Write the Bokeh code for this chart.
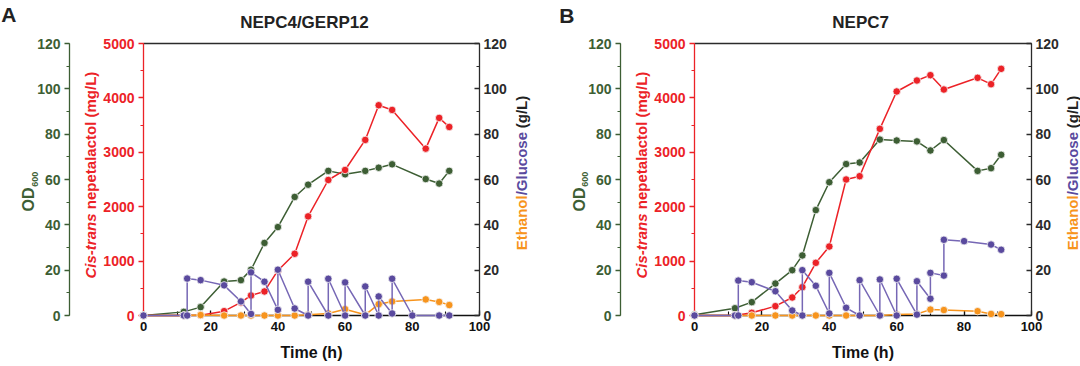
import math
from bokeh.plotting import figure
from bokeh.models import Range1d, LinearAxis, SingleIntervalTicker, FixedTicker
from bokeh.core.properties import value
from bokeh.layouts import row
from bokeh.embed import file_html
from bokeh.resources import INLINE

# ---------------- data ----------------
# Panel A: NEPC4/GERP12
a_time = [0, 12, 17, 24, 29, 32, 36, 40, 45, 49, 55, 60, 66, 70, 74, 84, 88, 91]
a_nepetalactol = [0, 0, 5, 80, 240, 368, 442, 828, 1135, 1822, 2491, 2675, 3227, 3865, 3779, 3067, 3632, 3466]
a_od600 = [0, 1.6, 3.7, 15.0, 15.6, 20.2, 32.0, 39.0, 52.3, 57.7, 63.8, 62.3, 63.8, 65.2, 66.7, 60.2, 58.2, 63.8]
a_ethanol = [0, 0, 0.2, 0, 0, 0, 0, 0, 0, 0.3, 0.9, 2.8, 0.3, 5.0, 6.2, 7.1, 6.0, 4.6]
a_glc_time = [0, 12, 13, 13, 17, 24, 29, 32, 32, 36, 40, 40, 45, 49, 49, 55, 55, 60, 60, 66, 66, 70, 70, 74, 74, 80, 88, 91]
a_glucose = [0, 0, 0, 16.3, 15.6, 13.3, 6.2, 0.7, 19.0, 14.9, 2.5, 20.2, 3.1, 0, 14.9, 0, 16.2, 0, 14.6, 0, 12.8, 0, 8.4, 0.9, 16.2, 0, 0, 0]

# Panel B: NEPC7
b_time = [0, 12, 17, 24, 29, 32, 36, 40, 45, 49, 55, 60, 66, 70, 74, 84, 88, 91]
b_nepetalactol = [0, 0, 49, 172, 331, 521, 968, 1268, 2500, 2561, 3431, 4118, 4320, 4418, 4154, 4369, 4252, 4534]
b_od600 = [0.3, 3.2, 5.9, 14.1, 20.0, 26.5, 46.5, 58.8, 66.8, 67.5, 77.6, 77.2, 76.8, 72.8, 77.4, 63.8, 65.0, 70.9]
b_ethanol = [0, 0, 0, 0, 0, 0, 0, 0, 0, 0, 0, 0.4, 0.7, 2.6, 2.4, 1.9, 0.7, 0.6]
b_glc_time = [0, 12, 13, 13, 17, 24, 29, 32, 32, 36, 40, 40, 45, 49, 49, 55, 55, 60, 60, 66, 66, 70, 70, 74, 74, 80, 88, 91]
b_glucose = [0, 0, 0, 15.4, 14.7, 10.7, 2.2, 0, 20.0, 13.1, 0.9, 18.8, 3.4, 0, 15.6, 0, 15.9, 0, 16.2, 0.4, 15.1, 7.4, 18.8, 17.6, 33.4, 32.8, 31.3, 29.0]

titles = ["NEPC4/GERP12", "NEPC7"]
letters = ["A", "B"]
x_label = "Time (h)"

# ---------------- style ----------------
FONT = "Liberation Sans"
GREEN = "#3d5e34"
RED = "#ec2227"
ORANGE = "#f7941d"
PURPLE_LINE = "#7667b5"
PURPLE_DOT = "#5a4a9e"
DARK = "#2b2b2b"


def style_axis(ax, color, size="14px"):
    ax.axis_line_color = color
    ax.axis_line_width = 1.3
    ax.major_tick_line_color = color
    ax.minor_tick_line_color = color
    ax.major_tick_line_width = 1.3
    ax.minor_tick_line_width = 1.1
    ax.major_label_text_color = color
    ax.major_label_text_font = FONT
    ax.major_label_text_font_style = "bold"
    ax.major_label_text_font_size = size


def add_text(p, text, x, y, color, size, style="bold", align="center", baseline="middle", angle=0.0):
    p.text(x=[x], y=[y], text=[text], y_range_name="gl", text_color=color,
           text_font=value(FONT), text_font_size=value(size), text_font_style=style,
           text_align=align, text_baseline=baseline, angle=angle, level="overlay")


def panel(idx, t, nep, od, eth, gt, glc, left_b, right_b, frame_w, right_lab_x, title_x, letter_x, letter_y):
    p = figure(frame_width=frame_w, frame_height=272, min_border_left=left_b,
               min_border_right=right_b, min_border_top=43, min_border_bottom=51,
               x_range=Range1d(0, 100), y_range=Range1d(0, 5000),
               output_backend="svg", toolbar_location=None, tools="")
    p.extra_y_ranges = {"od": Range1d(0, 120), "gl": Range1d(0, 120)}
    p.grid.visible = False
    p.outline_line_color = None
    p.background_fill_color = "white"
    p.border_fill_color = "white"

    # bottom axis
    xa = p.xaxis[0]
    xa.ticker = SingleIntervalTicker(interval=20, num_minor_ticks=2)
    style_axis(xa, "#111111", "13px")
    xa.major_tick_in = 5
    xa.major_tick_out = 0
    xa.minor_tick_in = 4
    xa.minor_tick_out = 0
    xa.major_label_standoff = 6
    xa.axis_label = x_label
    xa.axis_label_text_font = FONT
    xa.axis_label_text_font_style = "bold"
    xa.axis_label_text_font_size = "16px"
    xa.axis_label_text_color = "#111111"
    xa.axis_label_standoff = 10

    # red (nepetalactol) axis
    ya = p.yaxis[0]
    ya.ticker = SingleIntervalTicker(interval=1000, num_minor_ticks=2)
    style_axis(ya, RED)
    ya.major_tick_in = 0
    ya.major_tick_out = 5
    ya.minor_tick_in = 0
    ya.minor_tick_out = 3
    ya.major_label_standoff = 4
    ya.axis_label = " "
    ya.axis_label_text_font_size = "10px"
    ya.axis_label_standoff = 17

    # green OD axis
    ga = LinearAxis(y_range_name="od", ticker=SingleIntervalTicker(interval=20, num_minor_ticks=2))
    style_axis(ga, GREEN)
    ga.major_tick_in = 0
    ga.major_tick_out = 5
    ga.minor_tick_in = 0
    ga.minor_tick_out = 3
    ga.major_label_standoff = 4
    p.add_layout(ga, "left")

    # right g/L axis
    ra = LinearAxis(y_range_name="gl", ticker=SingleIntervalTicker(interval=20, num_minor_ticks=2))
    style_axis(ra, DARK)
    ra.major_tick_in = 5
    ra.major_tick_out = 0
    ra.minor_tick_in = 3
    ra.minor_tick_out = 0
    ra.major_label_standoff = 4
    p.add_layout(ra, "right")

    # top frame line
    ta = LinearAxis(ticker=FixedTicker(ticks=[]))
    ta.axis_line_color = DARK
    ta.axis_line_width = 1.3
    ta.major_tick_line_color = None
    ta.minor_tick_line_color = None
    p.add_layout(ta, "above")

    mk = dict(size=7.5, line_color="#f4f4f4", line_width=0.8, level="overlay")
    # OD600
    p.line(t, od, y_range_name="od", line_color=GREEN, line_width=1.5, level="overlay")
    p.scatter(t, od, y_range_name="od", fill_color=GREEN, **mk)
    # nepetalactol
    p.line(t, nep, line_color=RED, line_width=1.5, level="overlay")
    p.scatter(t, nep, fill_color=RED, **mk)
    # ethanol
    p.line(t, eth, y_range_name="gl", line_color=ORANGE, line_width=1.5, level="overlay")
    p.scatter(t, eth, y_range_name="gl", fill_color=ORANGE, **mk)
    # glucose
    p.line(gt, glc, y_range_name="gl", line_color=PURPLE_LINE, line_width=1.5, level="overlay")
    p.scatter(gt, glc, y_range_name="gl", fill_color=PURPLE_DOT, **mk)

    # texts
    up = math.pi / 2
    add_text(p, "Cis-trans", -15.7, 45, RED, "15px", "bold italic", "right", "middle", up)
    add_text(p, "nepetalactol (mg/L)", -15.7, 46.9, RED, "15px", "bold", "left", "middle", up)
    add_text(p, "OD", -34.2, 56.5, GREEN, "16px", "bold", "right", "middle", up)
    add_text(p, "600", -32.4, 56.8, GREEN, "9px", "bold", "left", "middle", up)
    add_text(p, "Ethanol", right_lab_x, 53, ORANGE, "15px", "bold", "right", "middle", up)
    add_text(p, "/Glucose", right_lab_x, 53, PURPLE_DOT, "15px", "bold", "left", "middle", up)
    add_text(p, "(g/L)", right_lab_x, 82.6, "#222222", "15px", "bold", "left", "middle", up)
    add_text(p, titles[idx], title_x, 129.4, "#222222", "17px", "bold", "center", "middle")
    add_text(p, letters[idx], letter_x, letter_y, "#222222", "21px", "bold", "left", "top")
    return p


pa = panel(0, a_time, a_nepetalactol, a_od600, a_ethanol, a_glc_time, a_glucose,
           143, 69, 336, 112.5, 47.9, -42.3, 137.8)
pb = panel(1, b_time, b_nepetalactol, b_od600, b_ethanol, b_glc_time, b_glucose,
           146, 49, 337, 112.2, 49.3, -40.1, 137.4)

layout = row(pa, pb)
open("out.html", "w").write(file_html(layout, INLINE))
